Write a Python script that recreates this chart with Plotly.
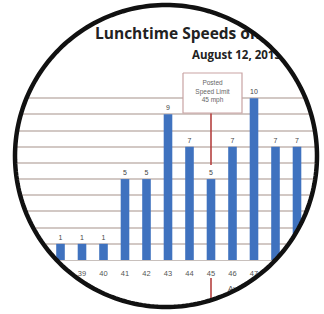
import numpy as np
import plotly.graph_objects as go

# ---- data ----
speeds = [37, 38, 39, 40, 41, 42, 43, 44, 45, 46, 47, 48, 49]
counts = [1, 1, 1, 1, 5, 5, 9, 7, 5, 7, 10, 7, 7]
tick_labels = [str(s) for s in speeds]
title_text = "Lunchtime Speeds on Main Street"
subtitle_text = "August 12, 2013"
limit_speed = 45
limit_label = "Posted<br>Speed Limit<br>45 mph"
x_title = "Average Speed (mph)"

# ---- layout geometry (pixels) ----
W, H = 324, 314
X_RANGE = [35.186, 50.256]
PLOT_TOP, PLOT_BOT = 82, 260
Y_MAX = 11


def px_x(v):
    return (v - X_RANGE[0]) / (X_RANGE[1] - X_RANGE[0]) * W


fig = go.Figure()

fig.add_trace(go.Bar(
    x=speeds, y=counts, width=0.4,
    marker=dict(color="#3f72bf", line=dict(width=0)),
    text=counts, textposition="outside", cliponaxis=False,
    textfont=dict(size=7, color="#444", family="Liberation Sans"),
    hoverinfo="skip",
))

lx = px_x(limit_speed)
# red limit line (upper part and lower part)
fig.add_trace(go.Scatter(x=[lx, lx], y=[113, 165], mode="lines",
                         line=dict(color="#b5403f", width=1.6),
                         xaxis="x2", yaxis="y2", hoverinfo="skip"))
fig.add_trace(go.Scatter(x=[lx, lx], y=[278, 320], mode="lines",
                         line=dict(color="#b5403f", width=1.6),
                         xaxis="x2", yaxis="y2", hoverinfo="skip"))
# callout box
bx0, bx1, by0, by1 = 183, 242, 73, 113
fig.add_trace(go.Scatter(x=[bx0, bx1, bx1, bx0, bx0], y=[by0, by0, by1, by1, by0],
                         mode="lines", fill="toself", fillcolor="white",
                         line=dict(color="#c9a3a3", width=1.2),
                         xaxis="x2", yaxis="y2", hoverinfo="skip"))
fig.add_trace(go.Scatter(x=[(bx0 + bx1) / 2], y=[92], mode="text", text=[limit_label],
                         textposition="middle center",
                         textfont=dict(size=6.5, color="#666", family="Liberation Sans"),
                         xaxis="x2", yaxis="y2", hoverinfo="skip"))
# titles
fig.add_trace(go.Scatter(x=[95], y=[35], mode="text", text=["<b>" + title_text + "</b>"],
                         textposition="middle right",
                         textfont=dict(size=15.5, color="#222", family="Open Sans"),
                         xaxis="x2", yaxis="y2", hoverinfo="skip"))
fig.add_trace(go.Scatter(x=[192], y=[56], mode="text", text=["<b>" + subtitle_text + "</b>"],
                         textposition="middle right",
                         textfont=dict(size=11.5, color="#222", family="Open Sans"),
                         xaxis="x2", yaxis="y2", hoverinfo="skip"))
fig.add_trace(go.Scatter(x=[228], y=[289], mode="text", text=[x_title],
                         textposition="middle right",
                         textfont=dict(size=8, color="#555", family="Liberation Sans"),
                         xaxis="x2", yaxis="y2", hoverinfo="skip"))

# ---- circular frame (pixels) ----
cx, cy, r = 166, 156, 151
theta = np.linspace(0, 2 * np.pi, 240, endpoint=False)
ring = " ".join(("M" if i == 0 else "L") + f"{cx + r * np.cos(a):.2f},{cy + r * np.sin(a):.2f}"
                for i, a in enumerate(theta)) + " Z"
mask_path = f"M-10,-10 L{W + 10},-10 L{W + 10},{H + 10} L-10,{H + 10} Z {ring}"

fig.update_layout(
    width=W, height=H, margin=dict(l=0, r=0, t=0, b=0),
    paper_bgcolor="white", plot_bgcolor="rgba(0,0,0,0)", showlegend=False,
    xaxis=dict(range=X_RANGE, domain=[0, 1], tickvals=speeds, ticktext=tick_labels,
               tickfont=dict(size=7.5, color="#555", family="Liberation Sans"),
               showgrid=False, zeroline=False, showline=True, linecolor="#c8c0bc",
               ticks="", ticklabelstandoff=6, fixedrange=True),
    yaxis=dict(range=[0, Y_MAX], domain=[(H - PLOT_BOT) / H, (H - PLOT_TOP) / H],
               dtick=1, showgrid=True, gridcolor="#d2c8c4", gridwidth=1.5,
               showticklabels=False, zeroline=False, fixedrange=True),
    xaxis2=dict(range=[0, W], domain=[0, 1], visible=False, anchor="y2", fixedrange=True),
    yaxis2=dict(range=[H, 0], domain=[0, 1], visible=False, anchor="x2", fixedrange=True),
    shapes=[
        dict(type="path", path=mask_path, xref="x2", yref="y2", fillcolor="white",
             fillrule="evenodd", line=dict(width=0), layer="above"),
        dict(type="path", path=ring, xref="x2", yref="y2", fillcolor="rgba(0,0,0,0)",
             line=dict(color="#111", width=4.5), layer="above"),
    ],
)

fig.write_html("out.html", config={"displayModeBar": False},
               post_script="document.body.style.margin='0';document.body.style.padding='0';")
